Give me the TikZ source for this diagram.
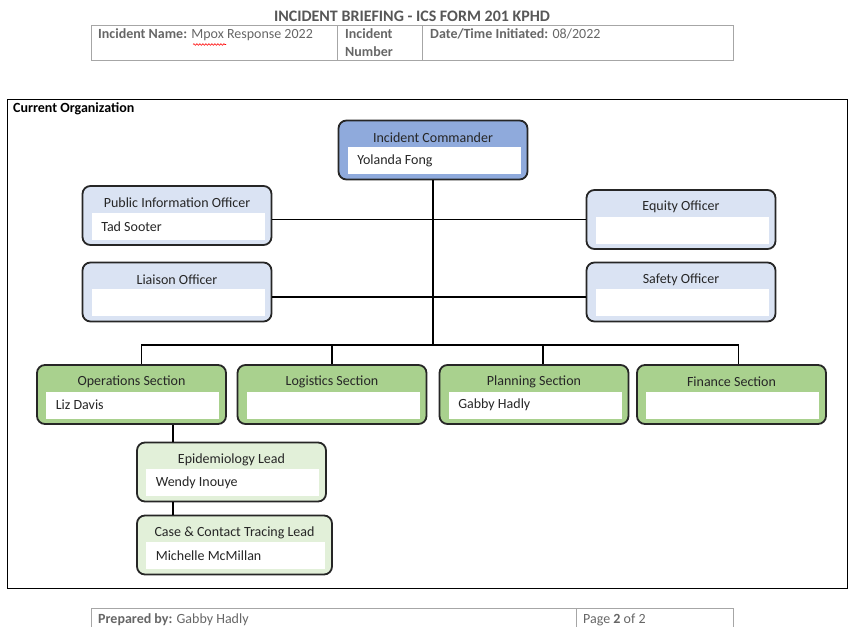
\documentclass[tikz,border=0pt]{standalone}
\usepackage{fontspec}
\setmainfont{Carlito}
\usetikzlibrary{positioning,decorations.pathmorphing}

\definecolor{icblue}{HTML}{8FAADC}
\definecolor{offblue}{HTML}{DAE3F3}
\definecolor{secgreen}{HTML}{A9D18E}
\definecolor{leadgreen}{HTML}{E2F0D9}
\definecolor{boxline}{HTML}{262626}
\definecolor{formgray}{HTML}{666666}
\definecolor{formline}{HTML}{A6A6A6}

\begin{document}
\begin{tikzpicture}[x=1pt,y=-1pt]
	\tikzstyle{unit} = [
		rectangle, rounded corners=8pt, draw=boxline, line width=1.8pt,
		minimum width=189pt, minimum height=59pt, inner sep=0pt
	]
	\tikzstyle{caption} = [
		font=\fontsize{14}{16}\selectfont, text=boxline
	]
	\tikzstyle{field} = [
		rectangle, fill=white, minimum width=173pt, minimum height=27pt, inner sep=0pt, above right
	]
	\tikzstyle{person} = [
		right, inner sep=9.5pt, font=\fontsize{14}{16}\selectfont, text=boxline
	]
	\tikzstyle{link} = [
		draw=black, line width=1.4pt
	]
	\tikzstyle{formtext} = [
		anchor=base west, inner sep=0pt, font=\fontsize{14}{16}\selectfont, text=formgray
	]
	\tikzstyle{formrule} = [
		draw=formline, line width=0.9pt
	]

	\useasboundingbox (0,0) rectangle (848,626);

	% Form header
	\node (FormTitle) [formtext, anchor=base, font=\fontsize{16}{18}\selectfont\bfseries, text=formgray!85!black] at (412,22) {INCIDENT BRIEFING - ICS FORM 201 KPHD};
	\draw[formrule] (91,25) rectangle (733,60);
	\draw[formrule] (337,25) -- (337,60);
	\draw[formrule] (422,25) -- (422,60);
	\node (IncName) [formtext] at (98,39) {\textbf{Incident Name:} Mpox Response 2022};
	\node (IncNum) [formtext] at (345,39) {\textbf{Incident}};
	\node (IncNum2) [formtext] at (345,56.5) {\textbf{Number}};
	\node (IncDate) [formtext] at (430,39) {\textbf{Date/Time Initiated:} 08/2022};
	\draw[red, line width=0.6pt, decorate, decoration={snake, amplitude=0.8pt, segment length=3pt}] (193,44.5) -- (226,44.5);

	% Frame
	\draw[black, line width=0.9pt] (7,99) rectangle (847,588);
	\node (FrameCaption) [formtext, text=black, font=\fontsize{14}{16}\selectfont\bfseries] at (13,112.5) {Current Organization};

	% Incident Commander
	\node (IC) [unit, fill=icblue] at (433,150) {}
		% Caption
		node [caption] at ([yshift=-18pt]IC.north) {Incident Commander}
		% Name field
		node (IC_field) [field] at ([shift={(10pt,6pt)}]IC.south west) {}
		node [person] at (IC_field.west) {Yolanda Fong}
	;

	% Public Information Officer
	\node (PIO) [unit, fill=offblue] at (177,215.5) {}
		node [caption] at ([yshift=-18pt]PIO.north) {Public Information Officer}
		node (PIO_field) [field] at ([shift={(10pt,6pt)}]PIO.south west) {}
		node [person] at (PIO_field.west) {Tad Sooter}
	;

	% Liaison Officer
	\node (Liaison) [unit, fill=offblue] at (177,292) {}
		node [caption] at ([yshift=-18pt]Liaison.north) {Liaison Officer}
		node (Liaison_field) [field] at ([shift={(10pt,6pt)}]Liaison.south west) {}
	;

	% Equity Officer
	\node (Equity) [unit, fill=offblue] at (681,219.5) {}
		node [caption] at ([yshift=-18pt]Equity.north) {Equity Officer}
		node (Equity_field) [field] at ([shift={(10pt,6pt)}]Equity.south west) {}
	;

	% Safety Officer
	\node (Safety) [unit, fill=offblue] at (681,292) {}
		node [caption] at ([yshift=-18pt]Safety.north) {Safety Officer}
		node (Safety_field) [field] at ([shift={(10pt,6pt)}]Safety.south west) {}
	;

	% Sections
	\node (Ops) [unit, fill=secgreen] at (131.5,394.5) {}
		node [caption] at ([yshift=-18pt]Ops.north) {Operations Section}
		node (Ops_field) [field] at ([shift={(10pt,6pt)}]Ops.south west) {}
		node [person] at (Ops_field.west) {Liz Davis}
	;
	\node (Log) [unit, fill=secgreen] at (332,394.5) {}
		node [caption] at ([yshift=-18pt]Log.north) {Logistics Section}
		node (Log_field) [field] at ([shift={(10pt,6pt)}]Log.south west) {}
	;
	\node (Plan) [unit, fill=secgreen] at (534,394.5) {}
		node [caption] at ([yshift=-18pt]Plan.north) {Planning Section}
		node (Plan_field) [field] at ([shift={(10pt,6pt)}]Plan.south west) {}
		node [person] at (Plan_field.west) {Gabby Hadly}
	;
	\node (Fin) [unit, fill=secgreen] at (731.5,394.5) {}
		node [caption] at ([yshift=-18pt]Fin.north) {Finance Section}
		node (Fin_field) [field] at ([shift={(10pt,6pt)}]Fin.south west) {}
	;

	% Leads
	\node (Epi) [unit, fill=leadgreen] at (231.5,472) {}
		node [caption] at ([yshift=-18pt]Epi.north) {Epidemiology Lead}
		node (Epi_field) [field] at ([shift={(10pt,6pt)}]Epi.south west) {}
		node [person] at (Epi_field.west) {Wendy Inouye}
	;
	\node (Case) [unit, fill=leadgreen, minimum width=195pt] at (234.5,545) {}
		node [caption] at ([yshift=-18pt]Case.north) {Case \& Contact Tracing Lead}
		node (Case_field) [field, minimum width=179pt] at ([shift={(10pt,6pt)}]Case.south west) {}
		node [person] at (Case_field.west) {Michelle McMillan}
	;

	% Command staff
	\coordinate (bus) at (IC.south |- 0,345);
	\draw[link] (IC) -- (bus);
	\draw[link] (PIO.east |- Equity.west) -- (Equity.west);
	\draw[link] ([yshift=-5pt]Liaison.east) -- ([yshift=-5pt]Safety.west);

	% General staff
	\draw[link] ([xshift=10pt]Ops.north) |- ([xshift=7pt]Fin.north |- bus) -- ([xshift=7pt]Fin.north);
	\draw[link] (Log.north) -- (Log.north |- bus);
	\draw[link] ([xshift=9pt]Plan.north) -- ([xshift=9pt]Plan.north |- bus);

	% Operations branch
	\draw[link] ([xshift=37pt]Epi.north west |- Ops.south) -- ([xshift=37pt]Epi.north west);
	\draw[link] ([xshift=37pt]Epi.south west) -- ([xshift=37pt]Case.north west);

	% Form footer
	\draw[formrule] (91,630) |- (733,608) -- (733,630);
	\draw[formrule] (576,608) -- (576,630);
	\node (PrepBy) [formtext] at (98,623.5) {\textbf{Prepared by:} Gabby Hadly};
	\node (PageNo) [formtext] at (583,623.5) {Page \textbf{2} of 2};

\end{tikzpicture}
\end{document}
